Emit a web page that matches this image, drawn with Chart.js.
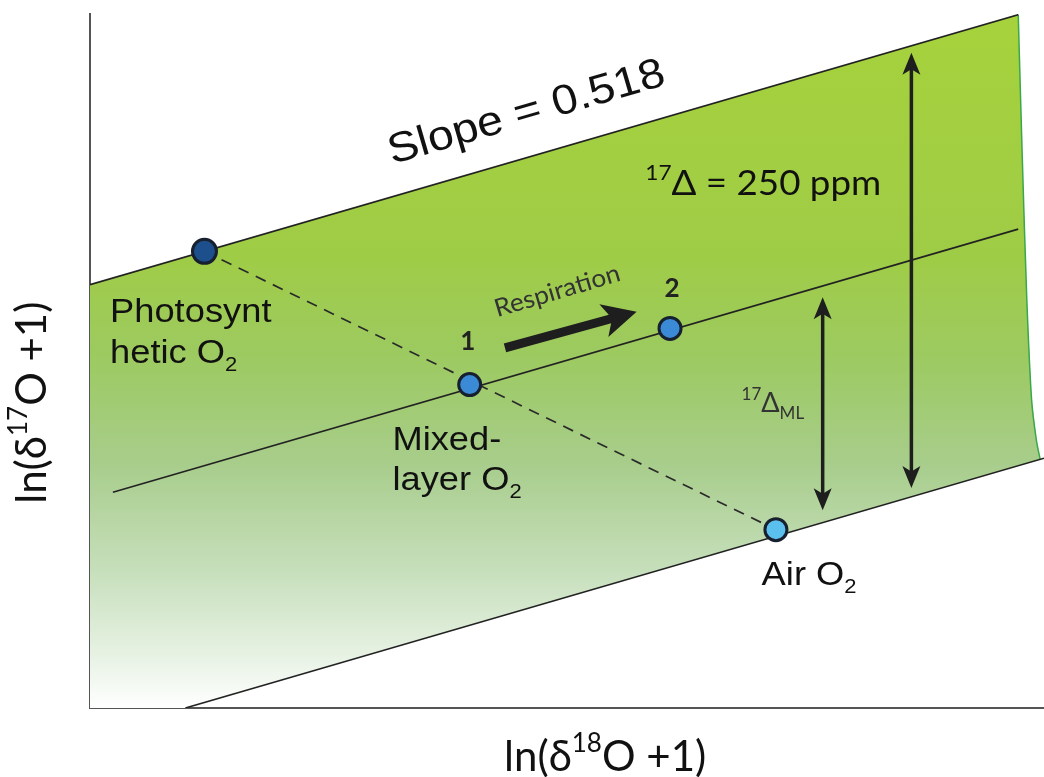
<!DOCTYPE html>
<html>
<head>
<meta charset="utf-8">
<script src="https://cdn.jsdelivr.net/npm/chart.js@4.4.1/dist/chart.umd.min.js"></script>
<style>
  html, body { margin: 0; padding: 0; background: #fff; }
  #wrap { width: 1044px; height: 777px; position: relative; }
</style>
</head>
<body>
<div id="wrap"><canvas id="o2Chart"></canvas></div>
<script>
// Triple oxygen isotope schematic, arbitrary units
// x = ln(d18O + 1), y = ln(d17O + 1)

// reference lines (all parallel)
const topLineX = [0, 97.3];
const topLineY = [61, 99.9];
const midLineX = [2.4, 97.3];
const midLineY = [31.1, 69.0];
const lowLineX = [10, 100];
const lowLineY = [0, 36];

// green band outline: top edge, curved right edge, bottom edge
const bandX = [0, 0, 97.3, 97.7, 98.2, 98.7, 99.2, 99.6, 10];
const bandY = [0, 61, 99.9, 80.4, 58.8, 44.4, 38.6, 35.8, 0];
const edgeX = [97.3, 97.7, 98.2, 98.7, 99.2, 99.6];
const edgeY = [99.9, 80.4, 58.8, 44.4, 38.6, 35.8];

// mixing line photosynthetic O2 -> air O2
const mixX = [12, 71.9];
const mixY = [65.8, 25.7];

// the four O2 pools
const poolNames = ['Photosynthetic O2', 'Mixed-layer O2 (1)', 'After respiration (2)', 'Air O2'];
const poolX = [12, 39.8, 60.8, 71.9];
const poolY = [65.8, 46.6, 54.7, 25.7];
const poolFill = ['#1d4f8c', '#3b8ad6', '#3b8ad6', '#5cc0ef'];

// arrows (start -> end), double = heads on both ends
const arrowX0 = [86.1, 76.8, 43.5];
const arrowY0 = [31.7, 28.5, 51.9];
const arrowX1 = [86.1, 76.8, 57.3];
const arrowY1 = [94.4, 59.2, 57.1];
const arrowDouble = [true, true, false];
const arrowLook = [
  { width: 3.5, head: 22, half: 9 },
  { width: 3.5, head: 22, half: 9 },
  { width: 9, head: 34, half: 17 }
];

// text notes, anchored in data units
const SANS = '"Liberation Sans", Arial, sans-serif';
const SOFT = 'Lato, "Open Sans", sans-serif';
const notes = [
  { parts: [['Slope = 0.518']], x: 46.1, y: 84.1, rot: -16.2, size: 42, family: SANS, stretch: 1.1, align: 'center' },
  { parts: [['17', 'sup'], ['\u0394 = 250 ppm']], x: 58.2, y: 73.9, size: 34, family: SOFT, stretch: 1.08 },
  { parts: [['Respiration']], x: 42.7, y: 56.3, rot: -16.5, size: 25, family: SOFT, color: '#333', stretch: 1.05 },
  { parts: [['1']], x: 39.6, y: 51.6, size: 26, family: SOFT, weight: 'bold', color: '#222', align: 'center' },
  { parts: [['2']], x: 61.0, y: 59.2, size: 26, family: SOFT, weight: 'bold', color: '#222', align: 'center' },
  { parts: [['Photosynt']], x: 2.1, y: 55.6, size: 33, family: SANS, stretch: 1.1 },
  { parts: [['hetic O'], ['2', 'sub']], x: 2.1, y: 49.7, size: 33, family: SANS, stretch: 1.1 },
  { parts: [['Mixed-']], x: 31.7, y: 37.2, size: 33, family: SANS, stretch: 1.1 },
  { parts: [['layer O'], ['2', 'sub']], x: 31.7, y: 31.4, size: 33, family: SANS, stretch: 1.1 },
  { parts: [['Air O'], ['2', 'sub']], x: 70.4, y: 17.7, size: 33, family: SANS, stretch: 1.1 },
  { parts: [['17', 'sup'], ['\u0394'], ['ML', 'sub']], x: 68.3, y: 42.6, size: 27, family: SOFT, color: '#333' }
];

function drawRich(ctx, parts, x, y, o) {
  const fontFor = k => `${o.weight || 'normal'} ${k ? Math.round(o.size * 0.62) : o.size}px ${o.family}`;
  ctx.save();
  ctx.translate(x, y);
  if (o.rot) ctx.rotate(o.rot * Math.PI / 180);
  ctx.scale(o.stretch || 1, 1);
  let total = 0;
  parts.forEach(([t, k]) => { ctx.font = fontFor(k); total += ctx.measureText(t).width; });
  let cx = o.align === 'center' ? -total / 2 : 0;
  ctx.fillStyle = o.color || '#111';
  ctx.textAlign = 'left';
  ctx.textBaseline = 'alphabetic';
  parts.forEach(([t, k]) => {
    ctx.font = fontFor(k);
    const dy = k === 'sup' ? -o.size * 0.45 : k === 'sub' ? o.size * 0.25 : 0;
    ctx.fillText(t, cx, dy);
    cx += ctx.measureText(t).width;
  });
  ctx.restore();
}

function arrowHead(ctx, tx, ty, fx, fy, look) {
  const a = Math.atan2(ty - fy, tx - fx);
  ctx.save();
  ctx.translate(tx, ty);
  ctx.rotate(a);
  ctx.beginPath();
  ctx.moveTo(0, 0);
  ctx.lineTo(-look.head, -look.half);
  ctx.lineTo(-look.head * 0.75, 0);
  ctx.lineTo(-look.head, look.half);
  ctx.closePath();
  ctx.fill();
  ctx.restore();
}

const annotate = {
  id: 'annotate',
  afterDatasetsDraw(chart) {
    const { ctx, scales: { x, y }, chartArea } = chart;
    ctx.save();
    ctx.fillStyle = '#1e1e1e';
    ctx.strokeStyle = '#1e1e1e';
    arrowX0.forEach((_, i) => {
      const x0 = x.getPixelForValue(arrowX0[i]), y0 = y.getPixelForValue(arrowY0[i]);
      const x1 = x.getPixelForValue(arrowX1[i]), y1 = y.getPixelForValue(arrowY1[i]);
      const look = arrowLook[i];
      const len = Math.hypot(x1 - x0, y1 - y0);
      const ux = (x1 - x0) / len, uy = (y1 - y0) / len;
      const cut = look.head * 0.7;
      ctx.lineWidth = look.width;
      ctx.beginPath();
      ctx.moveTo(x0 + (arrowDouble[i] ? ux * cut : 0), y0 + (arrowDouble[i] ? uy * cut : 0));
      ctx.lineTo(x1 - ux * cut, y1 - uy * cut);
      ctx.stroke();
      arrowHead(ctx, x1, y1, x0, y0, look);
      if (arrowDouble[i]) arrowHead(ctx, x0, y0, x1, y1, look);
    });
    ctx.restore();

    notes.forEach(n => drawRich(ctx, n.parts, x.getPixelForValue(n.x), y.getPixelForValue(n.y), n));

    // axis titles
    const tf = { size: 42, family: SOFT, color: '#111', align: 'center' };
    drawRich(ctx, [['ln(\u03B4'], ['18', 'sup'], ['O +1)']], x.getPixelForValue(54), chartArea.bottom + 63, tf);
    drawRich(ctx, [['ln(\u03B4'], ['17', 'sup'], ['O +1)']], chartArea.left - 44, y.getPixelForValue(44), Object.assign({ rot: -90 }, tf));
  }
};

function bandGradient(context) {
  const { ctx, chartArea } = context.chart;
  if (!chartArea) return null;
  const g = ctx.createLinearGradient(0, chartArea.top, 0, chartArea.bottom);
  g.addColorStop(0, '#a6d23c');
  g.addColorStop(0.35, '#9fcc46');
  g.addColorStop(0.5, '#9dca62');
  g.addColorStop(0.65, '#a8cd8c');
  g.addColorStop(0.8, '#c6dfbb');
  g.addColorStop(0.92, '#e6f1e2');
  g.addColorStop(1, '#ffffff');
  return g;
}

const toXY = (xs, ys) => xs.map((v, i) => ({ x: v, y: ys[i] }));
const lineSet = (xs, ys, extra) => Object.assign({
  data: toXY(xs, ys), showLine: true, pointRadius: 0, borderColor: '#222',
  borderWidth: 1.6, fill: false, tension: 0
}, extra);

const ctx = document.getElementById('o2Chart').getContext('2d');
const o2Chart = new Chart(ctx, {
  type: 'scatter',
  data: {
    datasets: [
      lineSet(bandX, bandY, { label: 'band', fill: 'shape', backgroundColor: bandGradient, borderWidth: 0, borderColor: 'rgba(0,0,0,0)', order: 10 }),
      lineSet(edgeX, edgeY, { label: 'edge', borderColor: '#3aa84a', borderWidth: 1.5, tension: 0.3, order: 9 }),
      lineSet(topLineX, topLineY, { label: 'top', order: 5 }),
      lineSet(midLineX, midLineY, { label: 'mixed layer', order: 5 }),
      lineSet(lowLineX, lowLineY, { label: 'air', order: 5 }),
      lineSet(mixX, mixY, { label: 'mixing', borderDash: [11, 8], borderColor: '#2a2a2a', borderWidth: 1.7, order: 4 }),
      {
        label: 'pools',
        data: toXY(poolX, poolY),
        pointRadius: [12, 11, 11, 11],
        pointBackgroundColor: poolFill,
        pointBorderColor: '#17202e',
        pointBorderWidth: 3,
        showLine: false,
        order: 1
      }
    ]
  },
  options: {
    responsive: true,
    maintainAspectRatio: false,
    animation: false,
    events: [],
    layout: { autoPadding: false, padding: { left: 90, top: 14, right: 0, bottom: 69 } },
    scales: {
      x: {
        type: 'linear', min: 0, max: 100,
        ticks: { display: false },
        grid: { display: false, drawTicks: false },
        border: { display: true, color: '#555', width: 2 }
      },
      y: {
        type: 'linear', min: 0, max: 100,
        ticks: { display: false },
        grid: { display: false, drawTicks: false },
        border: { display: true, color: '#555', width: 2 }
      }
    },
    plugins: {
      legend: { display: false },
      tooltip: { enabled: false }
    }
  },
  plugins: [annotate]
});
</script>
</body>
</html>
